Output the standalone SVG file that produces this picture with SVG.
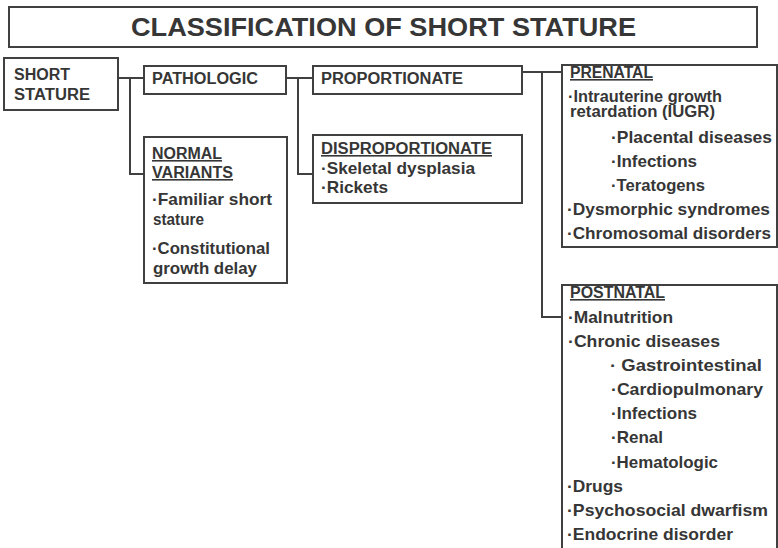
<svg xmlns="http://www.w3.org/2000/svg" width="778" height="548" viewBox="0 0 778 548">
  <style>
    .box { fill: #ffffff; stroke: #404040; stroke-width: 2; }
    .wire { fill: none; stroke: #404040; stroke-width: 2; }
    text { font-family: "Liberation Sans", Arial, sans-serif; font-weight: bold; fill: #363636; }
    .title { font-size: 25px; }
    .head { font-size: 16px; }
    .item { font-size: 17px; }
    .tight { font-size: 16px; }
    .ul { text-decoration: underline; }
  </style>
  <rect width="778" height="548" fill="#ffffff"/>

  <!-- heading -->
  <g id="title">
    <rect class="box" x="9" y="7" width="748" height="40"/>
    <text class="title" x="383.5" y="36" text-anchor="middle" textLength="505" lengthAdjust="spacingAndGlyphs">CLASSIFICATION OF  SHORT STATURE</text>
  </g>

  <!-- connectors -->
  <g id="connectors">
    <path class="wire" d="M118 78 H144 M130 78 V174 H144"/>
    <path class="wire" d="M286 78 H313 M298 78 V174 H313"/>
    <path class="wire" d="M522 72 H562 M542 72 V317 H562"/>
  </g>

  <g id="short-stature">
    <rect class="box" x="4" y="58" width="114" height="52"/>
    <text class="head" x="14" y="80" textLength="56" lengthAdjust="spacingAndGlyphs">SHORT</text>
    <text class="head" x="14" y="100" textLength="76" lengthAdjust="spacingAndGlyphs">STATURE</text>
  </g>

  <g id="pathologic">
    <rect class="box" x="144" y="66" width="142" height="28"/>
    <text class="head" x="152" y="84" textLength="106" lengthAdjust="spacingAndGlyphs">PATHOLOGIC</text>
  </g>

  <g id="normal-variants">
    <rect class="box" x="144" y="137" width="143" height="146"/>
    <text class="head ul" x="152" y="159" textLength="70" lengthAdjust="spacingAndGlyphs">NORMAL</text>
    <text class="head ul" x="152" y="178" textLength="81" lengthAdjust="spacingAndGlyphs">VARIANTS</text>
    <text class="item" x="152" y="205" textLength="120" lengthAdjust="spacingAndGlyphs">·Familiar short</text>
    <text class="item" x="153" y="225" textLength="51" lengthAdjust="spacingAndGlyphs">stature</text>
    <text class="item" x="152" y="254" textLength="118" lengthAdjust="spacingAndGlyphs">·Constitutional</text>
    <text class="item" x="153" y="274" textLength="104" lengthAdjust="spacingAndGlyphs">growth delay</text>
  </g>

  <g id="proportionate">
    <rect class="box" x="313" y="66" width="209" height="28"/>
    <text class="head" x="321" y="84" textLength="142" lengthAdjust="spacingAndGlyphs">PROPORTIONATE</text>
  </g>

  <g id="disproportionate">
    <rect class="box" x="313" y="135" width="209" height="68"/>
    <text class="head ul" x="321" y="154" textLength="171" lengthAdjust="spacingAndGlyphs">DISPROPORTIONATE</text>
    <text class="item" x="321" y="174" textLength="154" lengthAdjust="spacingAndGlyphs">·Skeletal dysplasia</text>
    <text class="item" x="321" y="193" textLength="67" lengthAdjust="spacingAndGlyphs">·Rickets</text>
  </g>

  <g id="prenatal">
    <rect class="box" x="562" y="65" width="215" height="182"/>
    <text class="head ul" x="570" y="78" textLength="83" lengthAdjust="spacingAndGlyphs">PRENATAL</text>
    <text class="tight" x="568" y="102" textLength="154" lengthAdjust="spacingAndGlyphs">·Intrauterine growth</text>
    <text class="tight" x="570" y="117" textLength="145" lengthAdjust="spacingAndGlyphs">retardation (IUGR)</text>
    <text class="item" x="611" y="143" textLength="161" lengthAdjust="spacingAndGlyphs">·Placental diseases</text>
    <text class="item" x="611" y="167" textLength="86" lengthAdjust="spacingAndGlyphs">·Infections</text>
    <text class="item" x="611" y="191" textLength="94" lengthAdjust="spacingAndGlyphs">·Teratogens</text>
    <text class="item" x="567" y="214.5" textLength="203" lengthAdjust="spacingAndGlyphs">·Dysmorphic syndromes</text>
    <text class="item" x="567" y="238.5" textLength="204" lengthAdjust="spacingAndGlyphs">·Chromosomal disorders</text>
  </g>

  <g id="postnatal">
    <rect class="box" x="562" y="285" width="215" height="280"/>
    <text class="head ul" x="570" y="298" textLength="95" lengthAdjust="spacingAndGlyphs">POSTNATAL</text>
    <text class="item" x="568" y="323" textLength="105" lengthAdjust="spacingAndGlyphs">·Malnutrition</text>
    <text class="item" x="568" y="347" textLength="152" lengthAdjust="spacingAndGlyphs">·Chronic diseases</text>
    <text class="item" x="610" y="371" textLength="152" lengthAdjust="spacingAndGlyphs">· Gastrointestinal</text>
    <text class="item" x="611" y="395" textLength="152" lengthAdjust="spacingAndGlyphs">·Cardiopulmonary</text>
    <text class="item" x="611" y="419" textLength="86" lengthAdjust="spacingAndGlyphs">·Infections</text>
    <text class="item" x="611" y="443" textLength="52" lengthAdjust="spacingAndGlyphs">·Renal</text>
    <text class="item" x="611" y="467.5" textLength="107" lengthAdjust="spacingAndGlyphs">·Hematologic</text>
    <text class="item" x="567" y="492" textLength="56" lengthAdjust="spacingAndGlyphs">·Drugs</text>
    <text class="item" x="567" y="516" textLength="201" lengthAdjust="spacingAndGlyphs">·Psychosocial dwarfism</text>
    <text class="item" x="567" y="540" textLength="166" lengthAdjust="spacingAndGlyphs">·Endocrine disorder</text>
  </g>
</svg>
